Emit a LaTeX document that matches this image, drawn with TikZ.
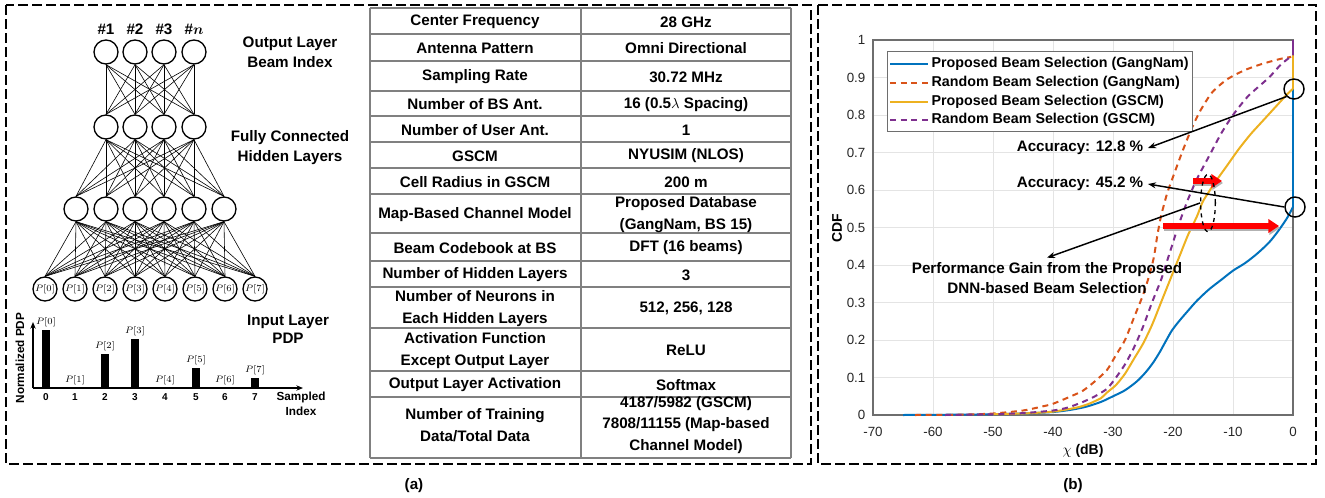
\documentclass[tikz,border=0pt]{standalone}
\usepackage{fontspec}
\setmainfont{Liberation Sans}
\usepackage{amsmath}
\usetikzlibrary{arrows.meta,shapes.geometric}

\definecolor{mblue}{rgb}{0,0.447,0.741}
\definecolor{morange}{rgb}{0.85,0.325,0.098}
\definecolor{myellow}{rgb}{0.929,0.694,0.125}
\definecolor{mpurple}{rgb}{0.494,0.184,0.556}
\definecolor{tabgray}{RGB}{128,128,128}
\definecolor{gridgray}{RGB}{228,228,228}
\definecolor{axgray}{RGB}{110,110,110}
\definecolor{ticktext}{RGB}{38,38,38}

\begin{document}
\begin{tikzpicture}[x=0.75pt,y=-0.75pt,
  font=\fontsize{11.4}{15}\selectfont\bfseries,
  frame/.style={line width=1.7pt,dash pattern=on 7.5pt off 3pt},
  neuron/.style={draw,circle,line width=1pt,minimum size=18pt,inner sep=0pt},
  wire/.style={line width=0.45pt},
  cell/.style={align=center,font=\fontsize{11.4}{16}\selectfont\bfseries},
  tabline/.style={draw=tabgray,line width=1.1pt},
  tick/.style={font=\fontsize{10}{12}\selectfont\mdseries,text=ticktext},
  curve/.style={line width=1.5pt},
  mdash/.style={dash pattern=on 4.5pt off 3.5pt},
  pointer/.style={line width=1.1pt,-{Stealth[length=6pt,width=4.5pt]}},
  redarrow/.style={line width=5pt,-{Triangle[length=8pt,width=10pt]}},
  ]
\useasboundingbox (0,0) rectangle (1325,497);

\draw[frame] (6,5) rectangle (811,464);
\draw[frame] (818,5) rectangle (1316,464);

\foreach \i/\x/\t in {1/106/1,2/135/2,3/164/3,4/194/{$\boldsymbol{n}$}}{
  \node[neuron,label={above:\#\t}] (o\i) at (\x,52) {};
  \node[neuron] (h\i) at (\x,127) {};
}
\foreach \i/\x in {1/76,2/106,3/135,4/164,5/194,6/224}
  \node[neuron] (g\i) at (\x,209) {};
\foreach \i/\x in {0/45,1/75,2/105,3/135,4/165,5/195,6/225,7/255}
  \node[neuron,font=\fontsize{7.5}{9}\selectfont] (p\i) at (\x,289) {$P[\i]$};
\foreach \a in {1,...,4} \foreach \b in {1,...,4} \draw[wire] (o\a.south) -- (h\b.north);
\foreach \a in {1,...,4} \foreach \b in {1,...,6} \draw[wire] (h\a.south) -- (g\b.north);
\foreach \a in {1,...,6} \foreach \b in {0,...,7} \draw[wire] (g\a.south) -- (p\b.north);

\node[align=center] (outtxt) at (290,52) {Output Layer\\Beam Index};
\node[align=center] (hidtxt) at (290,148) {Fully Connected\\Hidden Layers};
\node[align=center,font=\fontsize{11.4}{13.5}\selectfont\bfseries] (intxt) at (288,329) {Input Layer\\PDP};

\coordinate (pdporg) at (33,388);
\draw[line width=0.8pt,-{Stealth[length=5pt,width=4pt]}] (pdporg) -- (33,322);
\draw[line width=0.8pt,-{Stealth[length=5pt,width=4pt]}] (pdporg) -- (303,388);
\foreach \x/\h in {46/330,105/354,135/339,196/368,255/378}
  \fill (\x-4,\h) rectangle (\x+4,388);
\foreach \i/\x/\h in {0/46/330,1/75/388,2/105/354,3/135/339,4/165/388,5/196/368,6/225/388,7/255/378}{
  \node[above,inner sep=2pt,font=\fontsize{7.5}{9}\selectfont] (bar\i) at (\x,\h) {$P[\i]$};
  \node[font=\fontsize{7.5}{9}\selectfont] (idx\i) at (\x,397) {$\mathbf{\i}$};
}
\node[rotate=90,font=\fontsize{8.8}{10}\selectfont\bfseries] (pdpy) at (20,358) {Normalized PDP};
\node[align=center,font=\fontsize{8.8}{11.2}\selectfont\bfseries] (pdpx) at (301,404) {Sampled\\Index};

\foreach \y in {8,34,61,91,116,142,168,194,233,261,287,328,371,397,458}
  \draw[tabline] (370,\y) -- (791,\y);
\draw[tabline] (370,8) -- (370,458) (581,8) -- (581,458) (791,8) -- (791,458);
\foreach \n/\y/\l/\r in {1/22/{Center Frequency}/{28 GHz},
  2/48.5/{Antenna Pattern}/{Omni Directional},
  3/77/{Sampling Rate}/{30.72 MHz},
  4/104.5/{Number of BS Ant.}/{16 (0.5$\lambda$ Spacing)},
  5/130/{Number of User Ant.}/{1},
  6/156/{GSCM}/{NYUSIM (NLOS)},
  7/182/{Cell Radius in GSCM}/{200 m},
  8/214.5/{Map-Based Channel Model}/{Proposed Database\\(GangNam, BS 15)},
  9/248/{Beam Codebook at BS}/{DFT (16 beams)},
  10/275/{Number of Hidden Layers}/{3},
  11/308.5/{Number of Neurons in\\Each Hidden Layers}/{512, 256, 128},
  12/350.5/{Activation Function\\Except Output Layer}/{ReLU},
  13/385/{Output Layer Activation}/{Softmax},
  14/425/{Number of Training\\Data/Total Data}/{4187/5982 (GSCM)\\7808/11155 (Map-based\\Channel Model)}}{
  \node[cell] (tl\n) at (475,\y) {\l};
  \node[cell] (tr\n) at (686,\y) {\r};
}
\node (capa) at (414,486) {(a)};

\foreach \k in {0,...,7} \draw[gridgray,line width=0.7pt] (873+60*\k,40) -- (873+60*\k,415);
\foreach \k in {0,...,10} \draw[gridgray,line width=0.7pt] (873,415-37.5*\k) -- (1293,415-37.5*\k);
\draw[axgray,line width=0.8pt] (873,40) rectangle (1293,415);
\foreach \k/\t in {0/-70,1/-60,2/-50,3/-40,4/-30,5/-20,6/-10,7/0}
  \node[tick] (xt\k) at (873+60*\k,432) {\t};
\foreach \k/\t in {0/0,1/0.1,2/0.2,3/0.3,4/0.4,5/0.5,6/0.6,7/0.7,8/0.8,9/0.9,10/1}
  \node[tick,anchor=east] (yt\k) at (870,415-37.5*\k) {\t};
\node[font=\fontsize{10.5}{12}\selectfont\bfseries] (xlab) at (1083,451) {$\chi$ (dB)};
\node[rotate=90,font=\fontsize{10.5}{12}\selectfont\bfseries] (ylab) at (837,228) {CDF};

\begin{scope}[shift={(1293,415)},xscale=6,yscale=-375]
\draw[curve,mblue] plot[smooth,tension=0.5] coordinates {(-65,0) (-55,0.001) (-50,0.002) (-45,0.004) (-40,0.008) (-37,0.014) (-34.5,0.022) (-32,0.035) (-30,0.05) (-28,0.066) (-26,0.09) (-24.5,0.115) (-23.3,0.14) (-22.2,0.168) (-21.2,0.197) (-20.2,0.225) (-19,0.25) (-17.5,0.278) (-16,0.305) (-14,0.335) (-12,0.36) (-10,0.385) (-8,0.405) (-6,0.43) (-4,0.46) (-2.5,0.49) (-1,0.525) (0,0.555)};
\draw[curve,mblue] (0,0.555) -- (0,0.87);
\draw[curve,morange,mdash] plot[smooth,tension=0.4] coordinates {(-63,0) (-55,0.001) (-50,0.004) (-45,0.012) (-42,0.022) (-40,0.03) (-37,0.05) (-35,0.065) (-33,0.09) (-31,0.12) (-29.5,0.16) (-28,0.2) (-26.5,0.26) (-25,0.32) (-24,0.37) (-23.2,0.42) (-22.6,0.48) (-22,0.53) (-21,0.59) (-20,0.635) (-18.5,0.7) (-17,0.76) (-15.5,0.81) (-13.5,0.86) (-11,0.895) (-8,0.92) (-5,0.937) (-2,0.95) (-0.3,0.955)};
\draw[curve,myellow] plot[smooth,tension=0.4] coordinates {(-50,0.002) (-45,0.004) (-40,0.009) (-36,0.02) (-34,0.03) (-32,0.045) (-31,0.06) (-29.5,0.08) (-28,0.11) (-26.5,0.15) (-25,0.19) (-23.5,0.24) (-22,0.3) (-20.5,0.36) (-19,0.42) (-17.5,0.48) (-16,0.53) (-15,0.57) (-13,0.62) (-11,0.665) (-9,0.71) (-7,0.75) (-5,0.785) (-3,0.82) (-1,0.855) (0,0.87)};
\draw[curve,myellow] (0,0.87) -- (0,0.965);
\draw[curve,mpurple,mdash] plot[smooth,tension=0.4] coordinates {(-58,0) (-50,0.002) (-45,0.005) (-40,0.012) (-37.5,0.02) (-35,0.035) (-33,0.05) (-31,0.07) (-29.5,0.1) (-28,0.135) (-26.5,0.18) (-25,0.235) (-23.5,0.3) (-22,0.36) (-21,0.41) (-20,0.46) (-19,0.51) (-17.5,0.575) (-16,0.63) (-14,0.69) (-12,0.75) (-10,0.8) (-7.5,0.85) (-4,0.9) (-2,0.935) (0,0.96)};
\draw[curve,mpurple] (0,0.96) -- (0,1);
\end{scope}

\draw[axgray,fill=white,line width=0.7pt] (887,51) rectangle (1192,131);
\draw[curve,mblue] (890,64) -- (928,64) node[right,black,inner sep=2pt,font=\fontsize{10.7}{12}\selectfont\bfseries] (leg1) {Proposed Beam Selection (GangNam)};
\draw[curve,morange,mdash] (890,83) -- (928,83) node[right,black,inner sep=2pt,font=\fontsize{10.7}{12}\selectfont\bfseries] (leg2) {Random Beam Selection (GangNam)};
\draw[curve,myellow] (890,102) -- (928,102) node[right,black,inner sep=2pt,font=\fontsize{10.7}{12}\selectfont\bfseries] (leg3) {Proposed Beam Selection (GSCM)};
\draw[curve,mpurple,mdash] (890,120) -- (928,120) node[right,black,inner sep=2pt,font=\fontsize{10.7}{12}\selectfont\bfseries] (leg4) {Random Beam Selection (GSCM)};

\foreach \a/\b/\y in {1193/1222/181,1163/1279/226}{
  \draw[redarrow,black!30] (\a+1,\y+2) -- (\b+1,\y+2);
  \draw[redarrow,red] (\a,\y) -- (\b,\y);
}

\node[draw,circle,line width=1.1pt,minimum size=15pt,inner sep=0pt] (hit1) at (1294,89) {};
\node[draw,circle,line width=1.1pt,minimum size=15pt,inner sep=0pt] (hit2) at (1295,207) {};
\node[draw,ellipse,dashed,line width=1pt,minimum width=11pt,minimum height=43pt,inner sep=0pt] (gainsel) at (1208,203) {};
\node (acc1) at (1080,148) {Accuracy: 12.8 \%};
\node (acc2) at (1080,184) {Accuracy: 45.2 \%};
\node[align=center] (gain) at (1047,278) {Performance Gain from the Proposed\\DNN-based Beam Selection};
\draw[pointer] (hit1.225) -- (acc1.east);
\draw[pointer] (hit2.west) -- (acc2.east);
\draw[pointer] (gainsel.west) -- (gain.north);

\node (capb) at (1073,486) {(b)};
\end{tikzpicture}
\end{document}
